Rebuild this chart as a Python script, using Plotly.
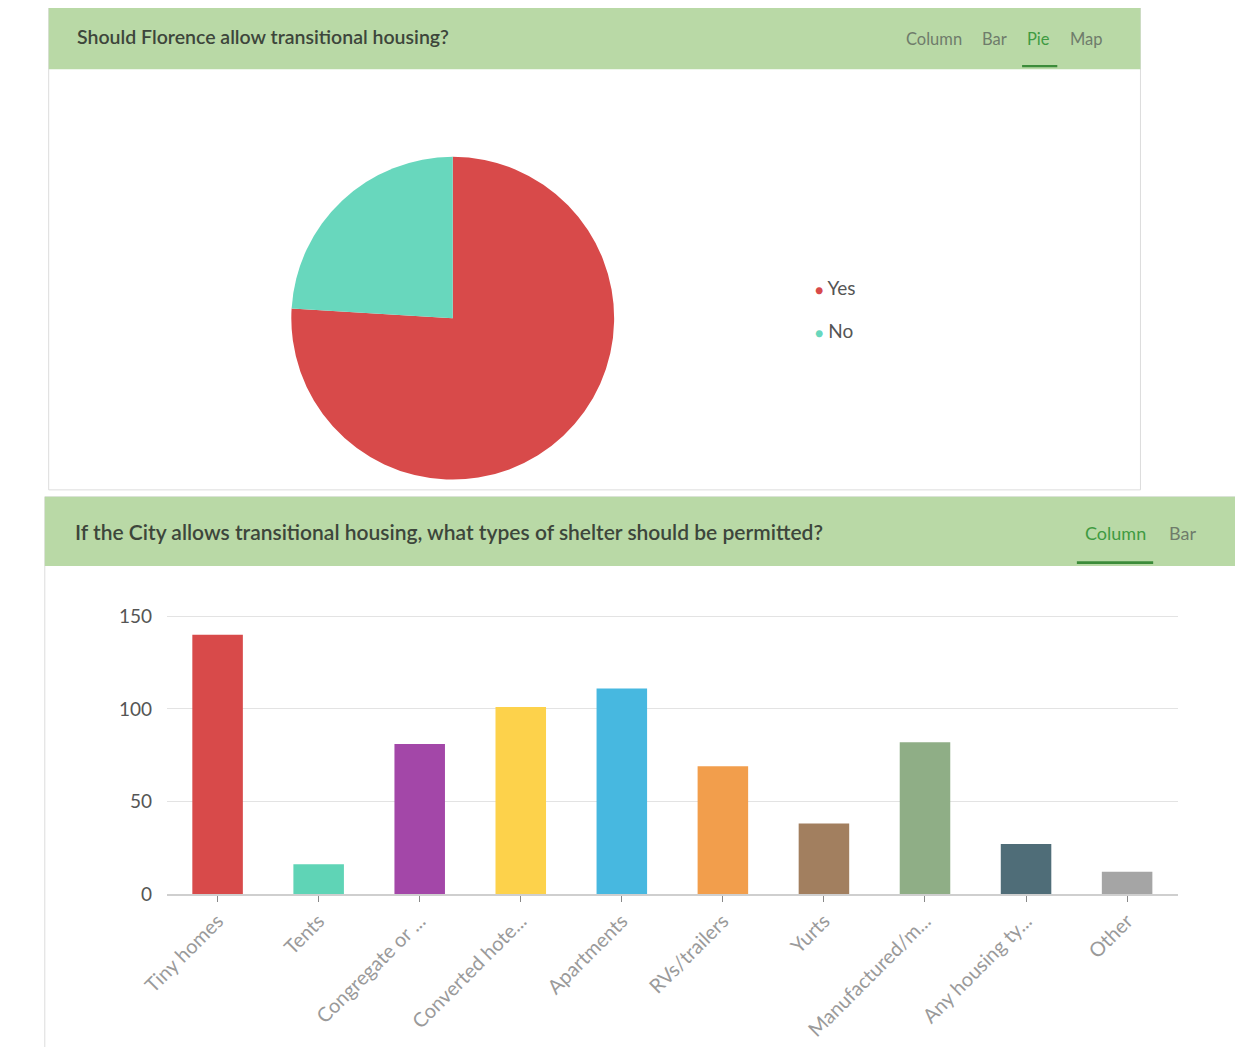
import plotly.graph_objects as go

# ---- data ----
pie_labels = ["Yes", "No"]
pie_values = [139, 44]
pie_colors = ["#d84a4a", "#68d7bd"]

categories = ["Tiny homes", "Tents", "Congregate or ...", "Converted hote...", "Apartments",
              "RVs/trailers", "Yurts", "Manufactured/m...", "Any housing ty...", "Other"]
counts = [140, 16, 81, 101, 111, 69, 38, 82, 27, 12]
bar_colors = ["#d84a4a", "#5fd4b6", "#a347a8", "#fdd24b", "#47b8e0",
              "#f29e4c", "#a27f5f", "#8fae86", "#4f6d78", "#a5a5a5"]
y_ticks = [0, 50, 100, 150]

title_top = "Should Florence allow transitional housing?"
tabs_top = ["Column", "Bar", "Pie", "Map"]
title_bottom = "If the City allows transitional housing, what types of shelter should be permitted?"
tabs_bottom = ["Column", "Bar"]

W, H = 1243, 1047
# the page body has an 8px margin; place everything so it lands at the target pixel
OX, OY = 8.0, 8.0
def px(x): return (x - OX) / W
def py(y): return 1 - (y - OY) / H

FONT = "Lato, 'Open Sans', sans-serif"
GREEN_BG = "#b9d9a6"
ACTIVE = "#3f9b42"
INACTIVE = "#6f7c6b"

fig = go.Figure()

# pie
cx, cy, r = 435, 321.5, 165
fig.add_trace(go.Pie(
    labels=pie_labels, values=pie_values, sort=False, direction="clockwise", rotation=0,
    marker=dict(colors=pie_colors, line=dict(width=0)), textinfo="none", hoverinfo="label+value",
    domain=dict(x=[px(cx - r), px(cx + r)], y=[py(cy + r), py(cy - r)]), showlegend=False))

# bars
y0_px = 903.3
unit = 1.87
ymax = 160
fig.add_trace(go.Bar(x=categories, y=counts, marker=dict(color=bar_colors, line=dict(width=0)),
                     width=0.5, xaxis="x", yaxis="y", showlegend=False))

shapes = []
# top panel
shapes.append(dict(type="rect", xref="paper", yref="paper", x0=px(22), x1=px(1138), y0=py(495), y1=py(5),
                   fillcolor="white", line=dict(color="#dcdcdc", width=1), layer="below"))
shapes.append(dict(type="rect", xref="paper", yref="paper", x0=px(22), x1=px(1138), y0=py(70), y1=py(5),
                   fillcolor=GREEN_BG, line=dict(width=0), layer="below"))
shapes.append(dict(type="rect", xref="paper", yref="paper", x0=px(1017), x1=px(1053), y0=py(68), y1=py(65.5),
                   fillcolor="#3c8c3a", line=dict(width=0)))
# bottom panel
shapes.append(dict(type="rect", xref="paper", yref="paper", x0=px(18), x1=px(1236), y0=py(1070), y1=py(502),
                   fillcolor="white", line=dict(color="#dcdcdc", width=1), layer="below"))
shapes.append(dict(type="rect", xref="paper", yref="paper", x0=px(18), x1=px(1236), y0=py(572), y1=py(502),
                   fillcolor=GREEN_BG, line=dict(width=0), layer="below"))
shapes.append(dict(type="rect", xref="paper", yref="paper", x0=px(1073), x1=px(1151), y0=py(570), y1=py(567),
                   fillcolor="#3c8c3a", line=dict(width=0)))

ann = []
ann.append(dict(text=title_top, x=px(49), y=py(37), xref="paper", yref="paper", xanchor="left", yanchor="middle",
                showarrow=False, font=dict(family=FONT, size=19.5, weight=600, color="#3d463b")))
for t, xc in zip(tabs_top, [927, 989, 1034, 1083]):
    ann.append(dict(text=t, x=px(xc), y=py(39), xref="paper", yref="paper", xanchor="center", yanchor="middle",
                    showarrow=False, font=dict(family=FONT, size=16.5, color=ACTIVE if t == "Pie" else INACTIVE)))
ann.append(dict(text=title_bottom, x=px(47), y=py(537), xref="paper", yref="paper", xanchor="left", yanchor="middle",
                showarrow=False, font=dict(family=FONT, size=21, weight=600, color="#3d463b")))
for t, xc in zip(tabs_bottom, [1112, 1181]):
    ann.append(dict(text=t, x=px(xc), y=py(539), xref="paper", yref="paper", xanchor="center", yanchor="middle",
                    showarrow=False, font=dict(family=FONT, size=18, color=ACTIVE if t == "Column" else INACTIVE)))
# pie legend
for i, (lab, col) in enumerate(zip(pie_labels, pie_colors)):
    ann.append(dict(text=f'<span style="color:{col};font-size:14px">●</span> {lab}', x=px(803), y=py(290 + 44 * i),
                    xref="paper", yref="paper", xanchor="left", yanchor="middle", showarrow=False,
                    font=dict(family=FONT, size=19, color="#555555")))

fig.update_layout(
    width=W, height=H, margin=dict(l=0, r=0, t=0, b=0),
    paper_bgcolor="white", plot_bgcolor="rgba(0,0,0,0)",
    shapes=shapes, annotations=ann, bargap=0.5,
    xaxis=dict(domain=[px(143), px(1176)], anchor="y", showline=True, linecolor="#cfcfcf", linewidth=1.5,
               ticks="outside", ticklen=6, tickcolor="#888888", tickangle=-45, showgrid=False,
               tickfont=dict(family=FONT, size=20, color="#9a9a9a"), fixedrange=True),
    yaxis=dict(domain=[py(y0_px), py(y0_px - ymax * unit)], anchor="x", range=[0, ymax], tickvals=y_ticks,
               showgrid=True, gridcolor="#e3e3e3", gridwidth=1, zeroline=False, showline=False,
               ticklabelstandoff=14, tickfont=dict(family=FONT, size=19, color="#555555"), fixedrange=True),
)

fig.write_html("out.html")
